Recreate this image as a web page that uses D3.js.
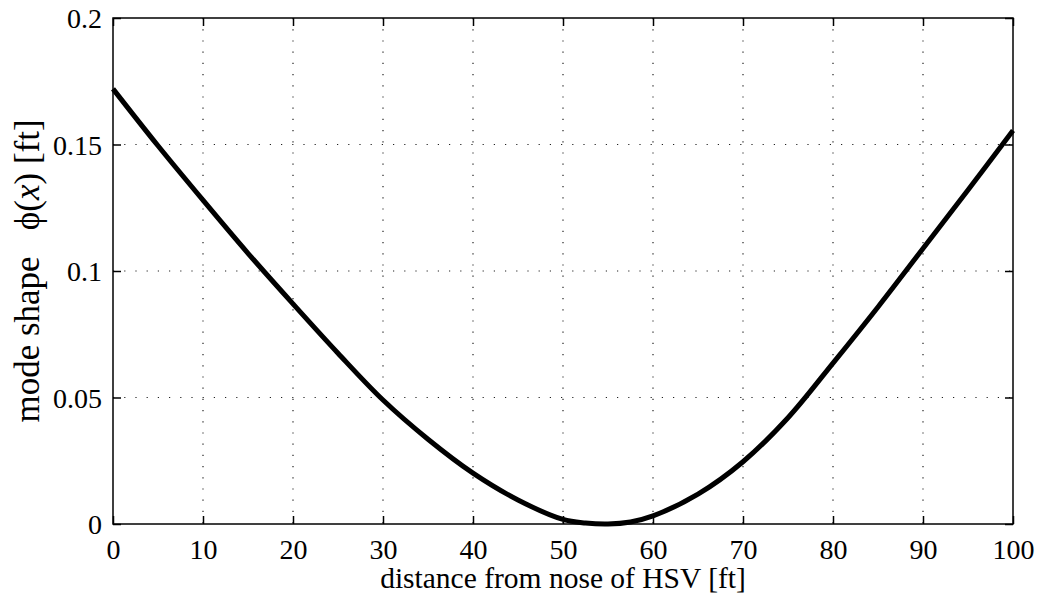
<!DOCTYPE html>
<html>
<head>
<meta charset="utf-8">
<script src="https://d3js.org/d3.v7.min.js"></script>
<style>
  body { margin: 0; background: #fff; }
  text { font-family: "Liberation Serif", "Times New Roman", serif; fill: #000; }
</style>
</head>
<body>
<div id="viz"></div>
<script>
// mode shape, every 5 ft
const xs  = [0, 5, 10, 15, 20, 25, 30, 35, 40, 45, 50, 52.5, 55, 57.5, 60, 65, 70, 75, 80, 85, 90, 95, 100];
const phi = [0.172, 0.1495, 0.128, 0.107, 0.087, 0.0675, 0.049, 0.0335, 0.0201, 0.0095, 0.0018, 0.0004, 0.0, 0.0008, 0.0032, 0.0118, 0.0246, 0.042, 0.0636, 0.0858, 0.1089, 0.132, 0.1555];
const xTicks = [0, 10, 20, 30, 40, 50, 60, 70, 80, 90, 100];
const yTicks = [0, 0.05, 0.1, 0.15, 0.2];
const yTickLabels = ["0", "0.05", "0.1", "0.15", "0.2"];

const W = 1039, H = 599;
const margin = {top: 18, right: 26, bottom: 75, left: 113};
const width = W - margin.left - margin.right,
      height = H - margin.top - margin.bottom;

const svg = d3.select('#viz').append('svg')
  .attr('width', W).attr('height', H)
  .append('g')
  .attr('transform', `translate(${margin.left},${margin.top})`);

const x = d3.scaleLinear().domain([0, 100]).range([0, width]);
const y = d3.scaleLinear().domain([0, 0.2]).range([height, 0]);

// dotted grid
svg.append('g').selectAll('line')
  .data(xTicks.slice(1, -1)).join('line')
  .attr('x1', d => x(d)).attr('x2', d => x(d))
  .attr('y1', 0).attr('y2', height)
  .attr('stroke', '#222').attr('stroke-width', 1.2)
  .attr('stroke-dasharray', '1.2,10');
svg.append('g').selectAll('line')
  .data(yTicks.slice(1, -1)).join('line')
  .attr('x1', 0).attr('x2', width)
  .attr('y1', d => y(d)).attr('y2', d => y(d))
  .attr('stroke', '#222').attr('stroke-width', 1.2)
  .attr('stroke-dasharray', '1.2,10');

// axes, inner ticks on all sides
const fmtY = (d, i) => yTickLabels[i];
const axBottom = svg.append('g')
  .attr('transform', `translate(0,${height})`)
  .call(d3.axisBottom(x).tickValues(xTicks).tickSize(-8).tickPadding(15).tickFormat(d3.format('d')));
const axLeft = svg.append('g')
  .call(d3.axisLeft(y).tickValues(yTicks).tickSize(-8).tickPadding(11).tickFormat(fmtY));
const axTop = svg.append('g')
  .call(d3.axisTop(x).tickValues(xTicks).tickSize(-8).tickFormat(''));
const axRight = svg.append('g')
  .attr('transform', `translate(${width},0)`)
  .call(d3.axisRight(y).tickValues(yTicks).tickSize(-8).tickFormat(''));

[axBottom, axLeft, axTop, axRight].forEach(g => {
  g.select('.domain').remove();
  g.selectAll('line').attr('stroke', '#000').attr('stroke-width', 1.5);
  g.selectAll('text').style('font-family', '"Liberation Serif", serif').style('font-size', '28px').attr('fill', '#000');
});
axBottom.selectAll('text').attr('dy', '0.71em');
axLeft.selectAll('text').attr('dy', '0.35em');

svg.append('rect')
  .attr('width', width).attr('height', height)
  .attr('fill', 'none').attr('stroke', '#000').attr('stroke-width', 1.5);

// the mode shape
const data = xs.map((v, i) => ({x: v, y: phi[i]}));
svg.append('path')
  .datum(data)
  .attr('fill', 'none')
  .attr('stroke', '#000')
  .attr('stroke-width', 5)
  .attr('stroke-linejoin', 'round')
  .attr('d', d3.line().x(d => x(d.x)).y(d => y(d.y)).curve(d3.curveCatmullRom));

// labels
svg.append('text')
  .attr('text-anchor', 'middle')
  .attr('x', width / 2).attr('y', height + 64)
  .style('font-size', '29.5px')
  .text('distance from nose of HSV [ft]');

const yl = svg.append('text')
  .attr('text-anchor', 'middle')
  .attr('transform', `translate(${-74},${height / 2}) rotate(-90)`)
  .style('font-size', '35px')
  .attr('xml:space', 'preserve');
yl.append('tspan').text('mode shape   \u03D5(');
yl.append('tspan').style('font-style', 'italic').text('x');
yl.append('tspan').text(') [ft]');
</script>
</body>
</html>
